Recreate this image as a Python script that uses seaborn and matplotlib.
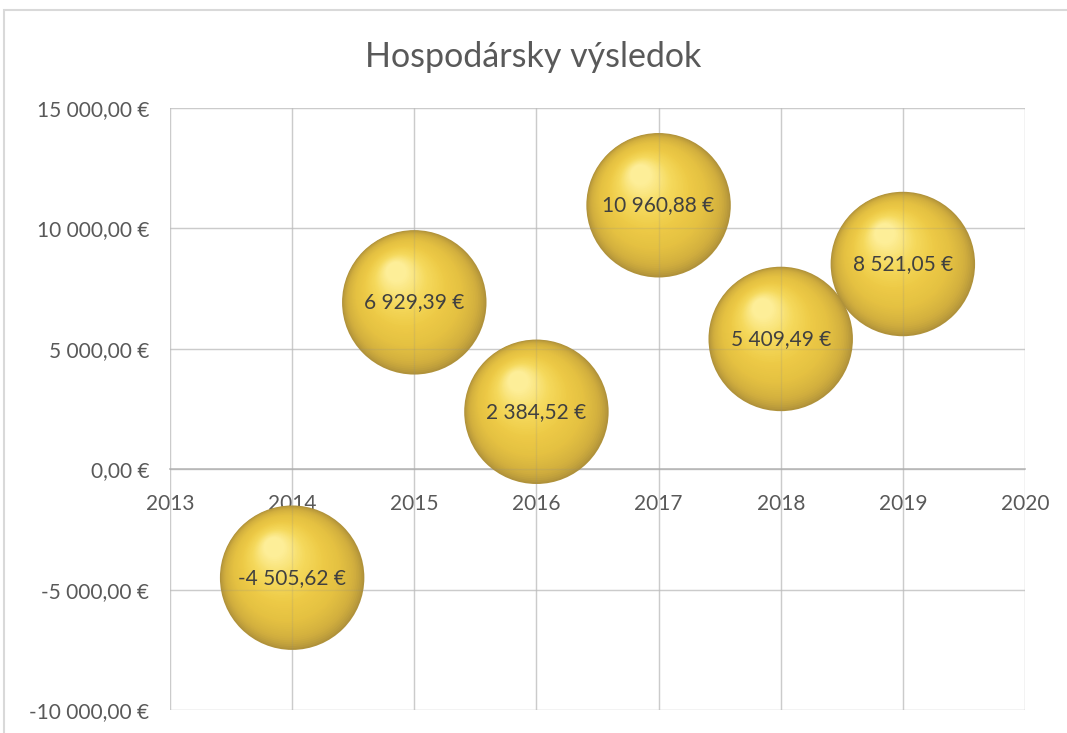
import matplotlib
matplotlib.use("Agg")
import matplotlib.pyplot as plt
import matplotlib.transforms as mtransforms
from matplotlib.colors import LinearSegmentedColormap
from matplotlib.patches import Rectangle
import seaborn as sns

years = [2014, 2015, 2016, 2017, 2018, 2019]
profit = [-4505.62, 6929.39, 2384.52, 10960.88, 5409.49, 8521.05]
x_ticks = [2013, 2014, 2015, 2016, 2017, 2018, 2019, 2020]
y_ticks = [-10000, -5000, 0, 5000, 10000, 15000]
title = "Hospodársky výsledok"


def eur(v):
    s = f"{abs(v):,.2f}".replace(",", " ").replace(".", ",")
    return ("-" if v < 0 else "") + s + " €"


sns.set_theme(style="white")
plt.rcParams["font.family"] = ["Lato", "DejaVu Sans"]

fig = plt.figure(figsize=(10.67, 7.33), dpi=100)
ax = fig.add_axes([170 / 1067, 23 / 733, 855 / 1067, 602 / 733])

D = 104.0  # bubble diameter in points
R = D / 2


def bubble_layer(d, dx, dy, color, z):
    sns.scatterplot(x=years, y=profit, s=d ** 2, color=color,
                    edgecolor="none", linewidth=0, legend=False, ax=ax, zorder=z)
    coll = ax.collections[-1]
    coll.set_offset_transform(
        ax.transData + mtransforms.ScaledTranslation(dx / 72, dy / 72, fig.dpi_scale_trans))
    coll.set_clip_on(False)


# gold sphere: stacked circles shrinking towards the upper-left highlight
gold = LinearSegmentedColormap.from_list(
    "gold", ["#b0923a", "#d2af3e", "#e4c041", "#edca46", "#f5d95c", "#fdee98"])
n = 50
for k in range(n):
    t = k / (n - 1)
    d = D * (1 - 0.86 * t)
    dx = -0.25 * R * t
    dy = 0.42 * R * t
    bubble_layer(d, dx, dy, gold(t ** 0.75), 3 + k * 0.001)

# faint grid showing through the bubbles
for xv in x_ticks:
    ax.axvline(xv, color="#8c8c8c", alpha=0.18, linewidth=1, zorder=4)
for yv in y_ticks:
    ax.axhline(yv, color="#8c8c8c", alpha=0.18, linewidth=1, zorder=4)

for x, v in zip(years, profit):
    ax.text(x, v, eur(v), ha="center", va="center", fontsize=15,
            color="#404040", zorder=10)

ax.set_xlim(2013, 2020)
ax.set_ylim(-10000, 15000)
ax.set_xticks(x_ticks)
ax.set_yticks(y_ticks)
ax.set_xticklabels([str(x) for x in x_ticks])
ax.set_yticklabels([eur(v) for v in y_ticks])
ax.grid(True, color="#d9d9d9", linewidth=1)
ax.set_axisbelow(True)
for side in ["top", "right", "left"]:
    ax.spines[side].set_visible(False)
ax.spines["bottom"].set_position(("data", 0))
ax.spines["bottom"].set_color("#bfbfbf")
ax.spines["bottom"].set_zorder(2)
ax.tick_params(axis="x", length=0, pad=18, labelsize=15, labelcolor="#595959")
ax.tick_params(axis="y", length=0, pad=15, labelsize=15, labelcolor="#595959")
ax.set_xlabel("")
ax.set_ylabel("")

fig.text(0.5, 1 - 57 / 733, title, ha="center", va="center",
         fontsize=24.5, color="#595959")
fig.add_artist(Rectangle((4 / 1067, -0.1), 1.2, 1.1 - 10 / 733,
                         transform=fig.transFigure, fill=False,
                         edgecolor="#d9d9d9", linewidth=1.5))

fig.savefig("out.png", dpi=100)
